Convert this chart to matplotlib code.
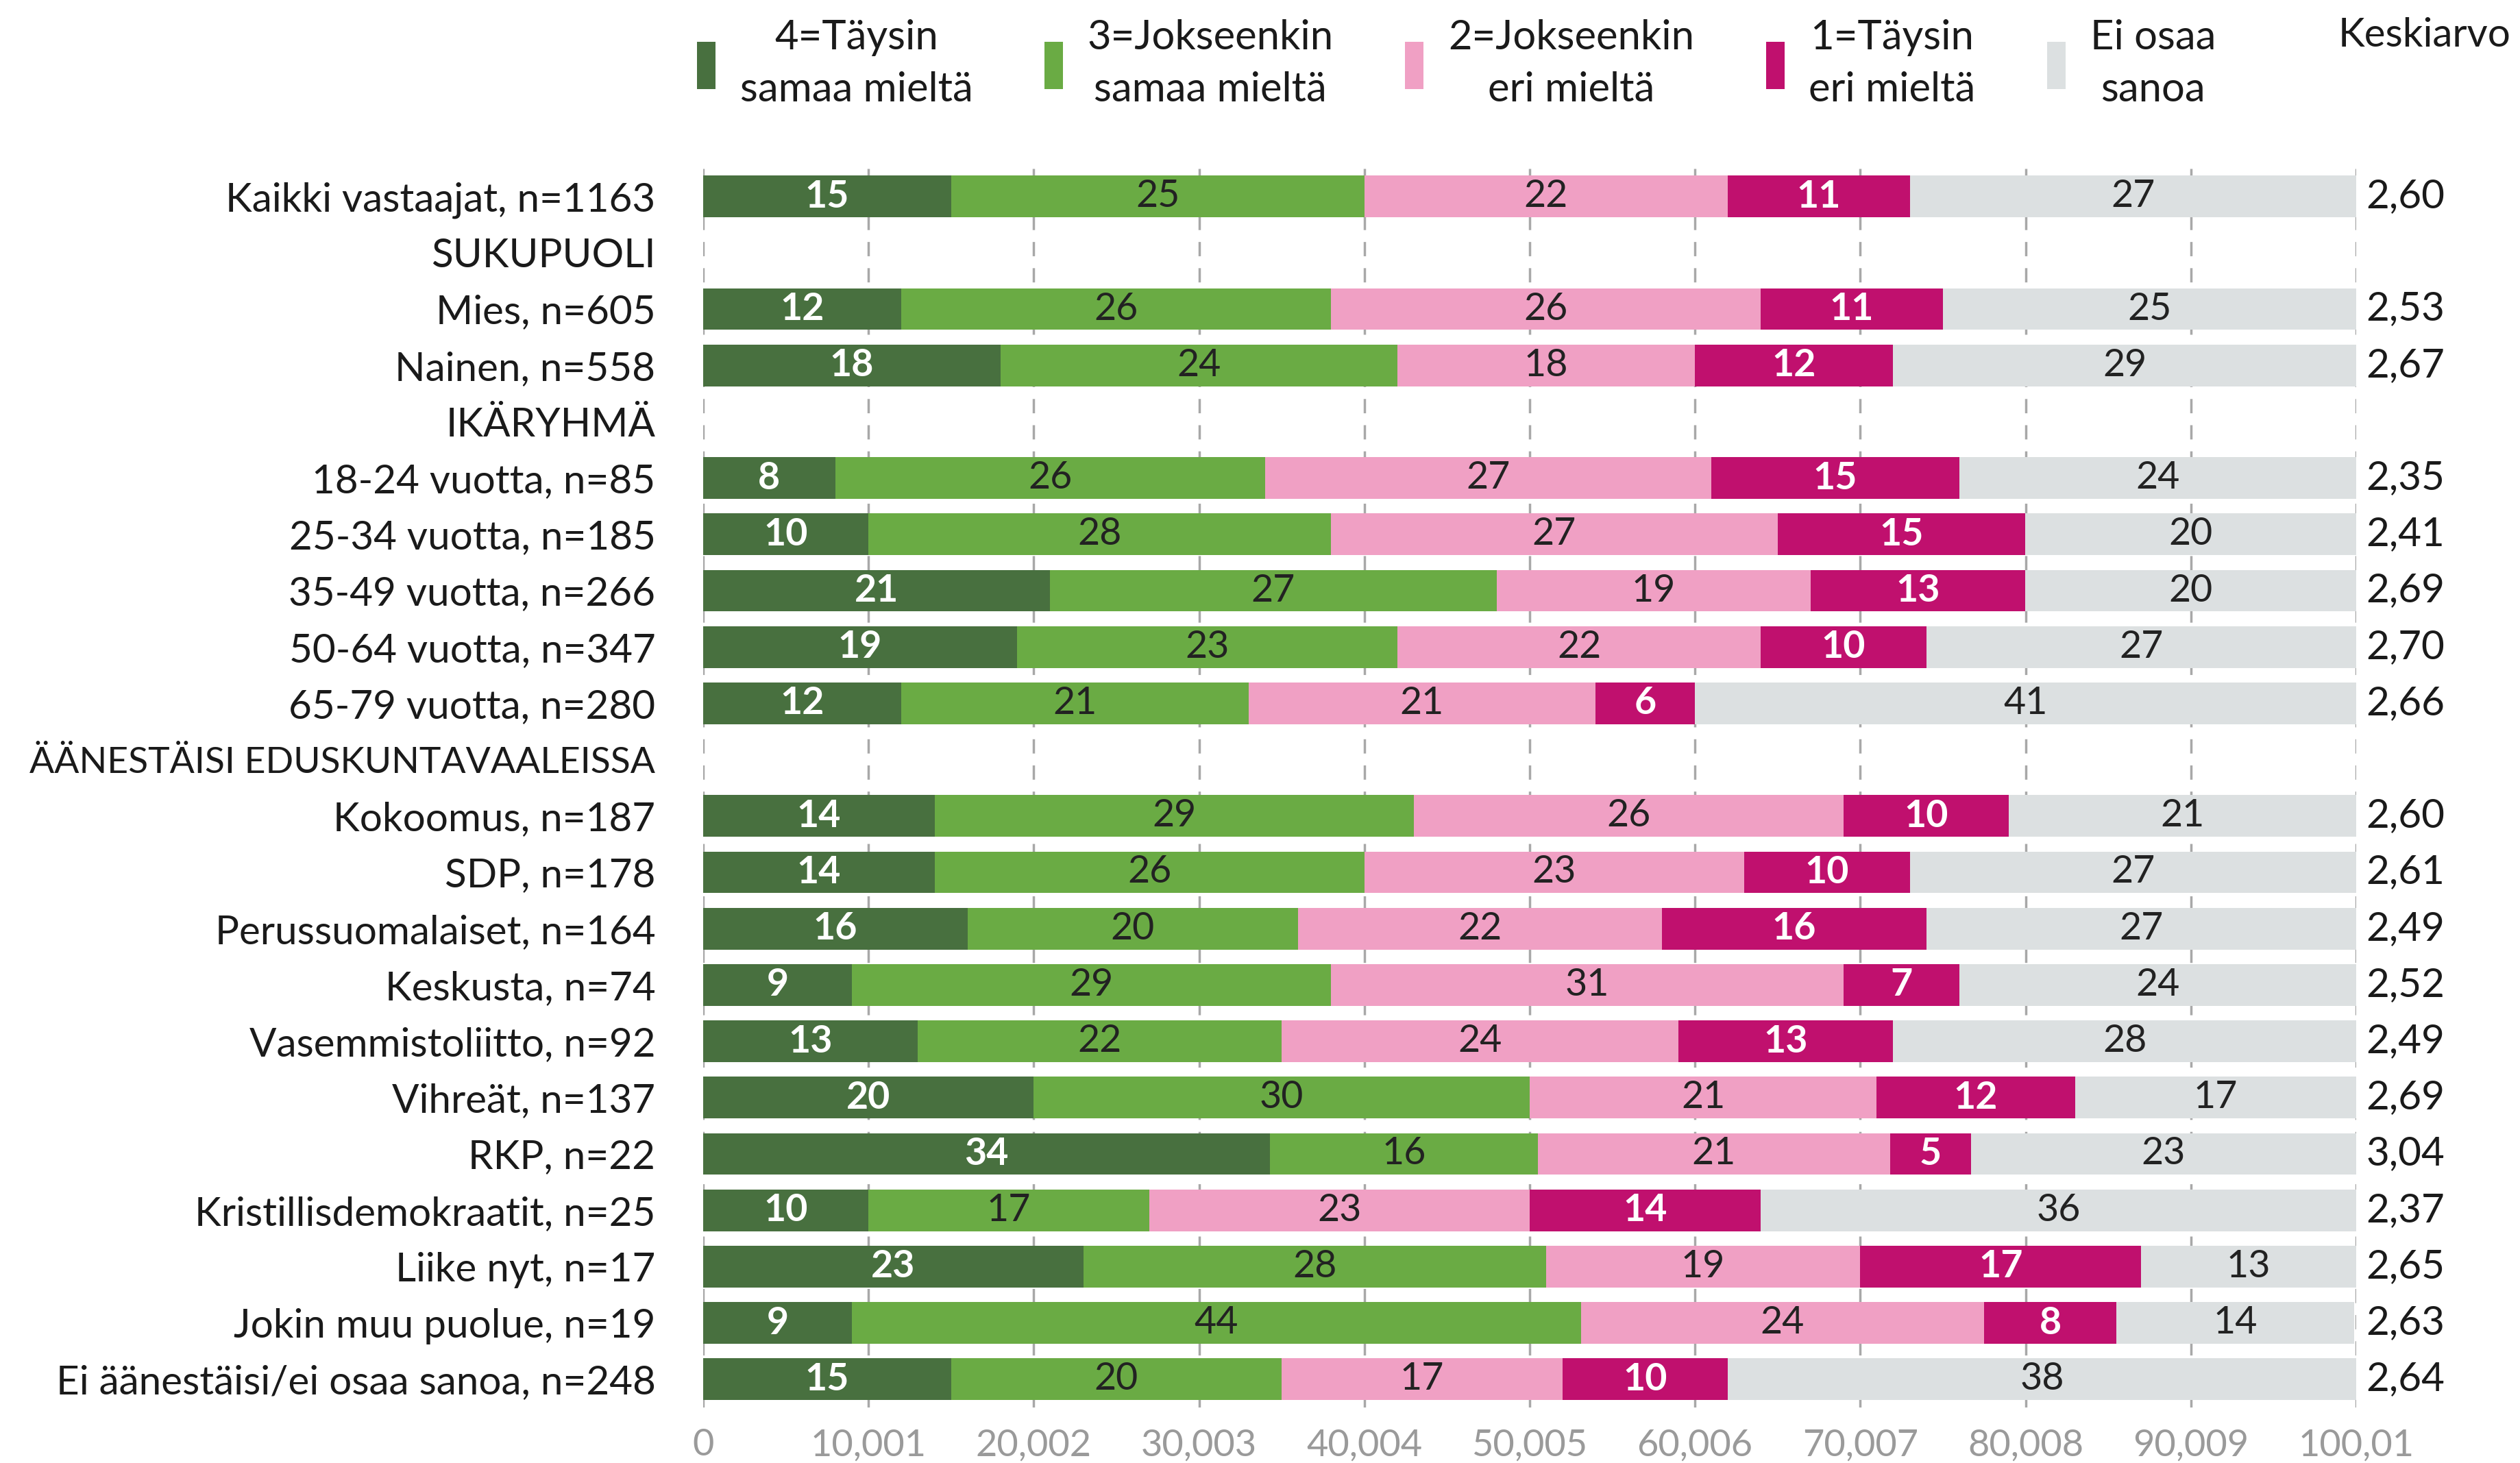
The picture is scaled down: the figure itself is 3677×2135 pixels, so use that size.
import matplotlib
matplotlib.use("Agg")
import matplotlib.pyplot as plt
from matplotlib.patches import Patch
from matplotlib.transforms import blended_transform_factory
import numpy as np

plt.rcParams['font.family'] = ['Lato', 'DejaVu Sans']

categories = [
    "Kaikki vastaajat, n=1163", "SUKUPUOLI", "Mies, n=605", "Nainen, n=558",
    "IKÄRYHMÄ", "18-24 vuotta, n=85", "25-34 vuotta, n=185", "35-49 vuotta, n=266",
    "50-64 vuotta, n=347", "65-79 vuotta, n=280", "ÄÄNESTÄISI EDUSKUNTAVAALEISSA",
    "Kokoomus, n=187", "SDP, n=178", "Perussuomalaiset, n=164", "Keskusta, n=74",
    "Vasemmistoliitto, n=92", "Vihreät, n=137", "RKP, n=22",
    "Kristillisdemokraatit, n=25", "Liike nyt, n=17", "Jokin muu puolue, n=19",
    "Ei äänestäisi/ei osaa sanoa, n=248",
]

# None = header row without bar
taysin_samaa = [15, None, 12, 18, None, 8, 10, 21, 19, 12, None, 14, 14, 16, 9, 13, 20, 34.3, 10, 23, 9, 15]
jokseenkin_samaa = [25, None, 26, 24, None, 26, 28, 27, 23, 21, None, 29, 26, 20, 29, 22, 30, 16.2, 17, 28, 44.1, 20]
jokseenkin_eri = [22, None, 26, 18, None, 27, 27, 19, 22, 21, None, 26, 23, 22, 31, 24, 21, 21.3, 23, 19, 24.4, 17]
taysin_eri = [11, None, 11, 12, None, 15, 15, 13, 10, 6, None, 10, 10, 16, 7, 13, 12, 4.9, 14, 17, 8, 10]
ei_osaa = [27, None, 25, 29, None, 24, 20, 20, 27, 41, None, 21, 27, 27, 24, 28, 17, 23.3, 36, 13, 14.4, 38]
keskiarvo = ["2,60", "", "2,53", "2,67", "", "2,35", "2,41", "2,69", "2,70", "2,66", "",
             "2,60", "2,61", "2,49", "2,52", "2,49", "2,69", "3,04", "2,37", "2,65", "2,63", "2,64"]

series_names = ["4=Täysin\nsamaa mieltä", "3=Jokseenkin\nsamaa mieltä", "2=Jokseenkin\neri mieltä",
                "1=Täysin\neri mieltä", "Ei osaa\nsanoa"]
series = [taysin_samaa, jokseenkin_samaa, jokseenkin_eri, taysin_eri, ei_osaa]
colors = ["#48703F", "#6AAB44", "#F0A0C4", "#C0106E", "#DCE0E1"]
label_colors = ["white", "#222222", "#222222", "white", "#222222"]
label_weights = ["bold", "normal", "normal", "bold", "normal"]

xmax = 100.01
xticks = [i * 10.001 for i in range(11)]
xticklabels = ["0", "10,001", "20,002", "30,003", "40,004", "50,005", "60,006",
               "70,007", "80,008", "90,009", "100,01"]

fig = plt.figure(figsize=(36.77, 21.35), dpi=100)
ax = fig.add_axes([0.279, 0.038, 0.656, 0.847])

y = np.arange(len(categories))
left = np.zeros(len(categories))
for vals, col, lc, lw in zip(series, colors, label_colors, label_weights):
    v = np.array([np.nan if a is None else a for a in vals], dtype=float)
    valid = ~np.isnan(v)
    bars = ax.barh(y[valid], v[valid], left=left[valid], height=0.74, color=col,
                   edgecolor='none', zorder=2)
    ax.bar_label(bars, labels=[f"{a:.0f}" for a in v[valid]], label_type='center',
                 color=lc, fontsize=40, fontweight=lw)
    left[valid] += v[valid]

ax.set_xlim(0, xmax)
ax.set_ylim(len(categories) - 0.5, -0.5)
ax.set_yticks(y)
ax.set_yticklabels(categories, fontsize=42, color="#1a1a1a")
for lbl in ax.get_yticklabels():
    if lbl.get_text().startswith("ÄÄNESTÄISI"):
        lbl.set_fontsize(38.5)
ax.set_xticks(xticks)
ax.set_xticklabels(xticklabels, fontsize=39, color="#9a9a9a")
ax.tick_params(axis='y', length=0, pad=50)
ax.tick_params(axis='x', length=0, pad=22)
for s in ax.spines.values():
    s.set_visible(False)
ax.grid(axis='x', color="#a8a8a8", linestyle=(0, (6, 5)), linewidth=2.5, zorder=0)
ax.set_axisbelow(True)

trans = blended_transform_factory(ax.transAxes, ax.transData)
for yi, m in zip(y, keskiarvo):
    if m:
        ax.text(1.006, yi, m, transform=trans, ha='left', va='center', fontsize=42, color="#1a1a1a")

handles = [Patch(facecolor=c, edgecolor='none') for c in colors]
leg = fig.legend(handles, series_names, ncol=5, loc='upper left',
                 bbox_to_anchor=(0.262, 1.012), frameon=False, fontsize=43,
                 handlelength=0.45, handleheight=1.4, handletextpad=0.6,
                 columnspacing=1.75, labelspacing=0.2)
for t in leg.get_texts():
    t.set_multialignment('center')
    t.set_color("#1a1a1a")
    t.set_linespacing(1.5)

fig.text(0.962, 0.976, "Keskiarvo", ha='center', va='center', fontsize=42, color="#1a1a1a")

fig.savefig("out.png", dpi=100, facecolor='white')
